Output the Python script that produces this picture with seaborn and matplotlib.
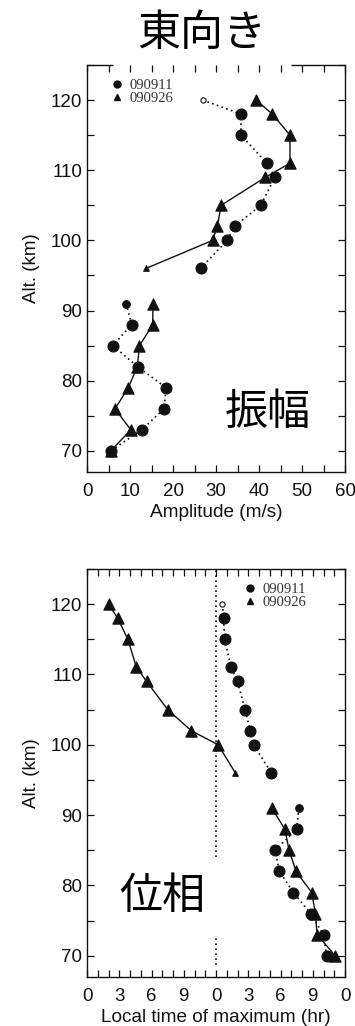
import matplotlib
matplotlib.use("Agg")
import matplotlib.pyplot as plt
from matplotlib.lines import Line2D
from matplotlib.ticker import MultipleLocator, FixedLocator, FixedFormatter
import pandas as pd
import seaborn as sns

# Altitude levels (km), shared by every profile
alt = [120, 118, 115, 111, 109, 105, 102, 100, 96, 91, 88, 85, 82, 79, 76, 73, 70]
# profile pieces that are not joined by a line (upper / lower)
segment = [0] * 9 + [1] * 8

# Amplitude (m/s)
amp_090911 = [26.9, 35.8, 35.8, 41.8, 43.7, 40.4, 34.3, 32.6, 26.4,
              9.1, 10.4, 6.0, 11.8, 18.4, 17.9, 12.7, 5.5]
amp_090926 = [39.3, 43.1, 47.2, 47.2, 41.5, 31.2, 30.3, 29.2, 13.7,
              15.3, 15.3, 12.2, 11.7, 9.6, 6.5, 10.2, 5.5]

# Local time of maximum (hr, 0-24)
phase_090911 = [12.6, 12.7, 12.8, 13.4, 14.0, 14.7, 15.2, 15.5, 17.15,
                19.7, 19.5, 17.5, 17.9, 19.2, 20.8, 22.0, 22.3]
phase_090926 = [2.0, 2.85, 3.8, 4.6, 5.55, 7.5, 9.7, 12.2, 13.8,
                17.2, 18.4, 18.8, 19.45, 20.9, 21.25, 21.4, 23.1]

# Marker class per point
kind_090911 = ["open", "big", "big", "big", "big", "big", "big", "big", "big",
               "small", "big", "big", "big", "big", "big", "big", "big"]
kind_090926 = ["big"] * 8 + ["tiny"] + ["big"] * 8

series_names = ["090911", "090926"]
amp_ticks = [0, 10, 20, 30, 40, 50, 60]
phase_ticks = [0, 3, 6, 9, 12, 15, 18, 21, 24]
phase_tick_labels = ["0", "3", "6", "9", "0", "3", "6", "9", "0"]
noon_line_spans = [(84.0, 125.0), (68.7, 72.5)]

title = "東向き"
amp_tag = "振幅"
phase_tag = "位相"

sns.set_theme(style="ticks")
plt.rcParams["font.family"] = ["Liberation Sans", "Noto Sans CJK JP", "DejaVu Sans"]

INK = "#111111"
DOT = (0, (1.0, 2.0))

fig = plt.figure(figsize=(3.55, 10.26), dpi=100)
ax1 = fig.add_axes([0.2451, 0.5400, 0.7268, 0.3967])
ax2 = fig.add_axes([0.2451, 0.0478, 0.7268, 0.3977])

sizes = {"circ": {"big": 62, "small": 30, "open": 14},
         "tri": {"big": 66, "tiny": 16}}


def profile(ax, xs, kinds, marker, ls, lw):
    df = pd.DataFrame({"x": xs, "alt": alt, "seg": segment, "kind": kinds})
    sns.lineplot(data=df, x="x", y="alt", units="seg", estimator=None,
                 sort=False, color=INK, lw=lw, linestyle=ls, ax=ax,
                 legend=False)
    key = "circ" if marker == "o" else "tri"
    for k, sub in df.groupby("kind"):
        face = "white" if k == "open" else INK
        sns.scatterplot(data=sub, x="x", y="alt", marker=marker,
                        s=sizes[key][k], color=face, edgecolor=INK,
                        linewidth=0.8, ax=ax, legend=False, zorder=3)


profile(ax1, amp_090911, kind_090911, "o", DOT, 1.2)
profile(ax1, amp_090926, kind_090926, "^", "-", 1.0)
profile(ax2, phase_090911, kind_090911, "o", DOT, 1.2)
profile(ax2, phase_090926, kind_090926, "^", "-", 1.0)

for lo, hi in noon_line_spans:
    ax2.plot([12, 12], [lo, hi], color=INK, lw=1.2, linestyle=DOT, zorder=1)

for ax in (ax1, ax2):
    ax.set_ylim(67, 125)
    ax.yaxis.set_major_locator(MultipleLocator(10))
    ax.yaxis.set_minor_locator(MultipleLocator(5))
    ax.tick_params(which="both", direction="in", top=True, right=True,
                   length=5, width=0.9, color=INK, labelsize=13.5,
                   labelcolor=INK, pad=3.5)
    ax.tick_params(axis="x", which="both", pad=8)
    ax.set_ylabel("Alt. (km)", fontsize=13.5, color=INK, labelpad=8)
    for sp in ax.spines.values():
        sp.set_color(INK)
        sp.set_linewidth(1.0)

ax1.set_xlim(0, 60)
ax1.xaxis.set_major_locator(FixedLocator(amp_ticks))
ax1.xaxis.set_minor_locator(MultipleLocator(5))
ax1.set_xlabel("Amplitude (m/s)", fontsize=13.7, color=INK, labelpad=3)
# upper frame edge is only partly drawn
ax1.spines["top"].set_visible(False)
for a, b in ((0.0, 0.1), (0.79, 1.0)):
    ax1.plot([a, b], [1, 1], transform=ax1.transAxes, color=INK, lw=1.0,
             clip_on=False, solid_capstyle="butt")

ax2.set_xlim(0, 24)
ax2.xaxis.set_major_locator(FixedLocator(phase_ticks))
ax2.xaxis.set_major_formatter(FixedFormatter(phase_tick_labels))
ax2.xaxis.set_minor_locator(MultipleLocator(1))
ax2.set_xlabel("Local time of maximum (hr)", fontsize=13.7, color=INK, labelpad=3)


def legend(ax, loc, anchor):
    handles = [Line2D([], [], marker="o", ls="", color=INK, markersize=5),
               Line2D([], [], marker="^", ls="", color=INK, markersize=5)]
    leg = ax.legend(handles, series_names, loc=loc, bbox_to_anchor=anchor,
                    frameon=False, handlelength=0.8, handletextpad=0.45,
                    labelspacing=0.0, borderaxespad=0.0,
                    prop={"family": "Liberation Serif", "size": 10.5})
    for t in leg.get_texts():
        t.set_color("#333333")


legend(ax1, "upper left", (0.07, 0.98))
legend(ax2, "upper left", (0.585, 0.98))

ax1.text(42.1, 75.4, amp_tag, fontsize=31, ha="center", va="center",
         family="Noto Sans CJK JP", color="black")
ax2.text(7.0, 78.3, phase_tag, fontsize=31, ha="center", va="center",
         family="Noto Sans CJK JP", color="black")
fig.text(0.569, 0.967, title, fontsize=31, ha="center", va="center",
         family="Noto Sans CJK JP", color="black")

fig.savefig("out.png", dpi=100, facecolor="white")
